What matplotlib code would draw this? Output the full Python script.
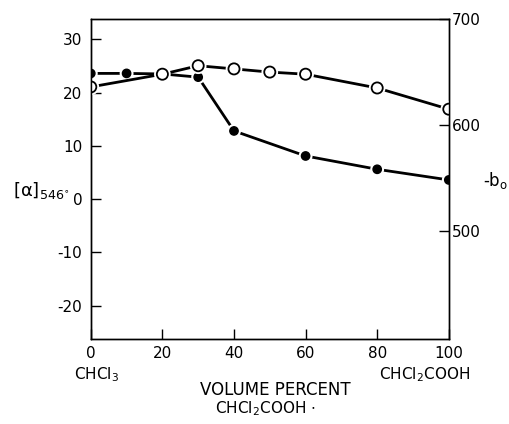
import matplotlib
matplotlib.use("Agg")
import matplotlib.pyplot as plt
import matplotlib.patheffects as pe

plt.rcParams["font.family"] = ["DejaVu Sans"]
plt.rcParams["mathtext.default"] = "regular"

# volume percent CHCl2COOH
x_filled = [0, 10, 20, 30, 40, 60, 80, 100]
alpha_546 = [23.6, 23.6, 23.5, 22.9, 12.8, 8.1, 5.6, 3.6]

x_open = [0, 20, 30, 40, 50, 60, 80, 100]
minus_b0 = [636, 648, 656, 653, 650, 648, 635, 615]

x_ticks = [0, 20, 40, 60, 80, 100]
left_ticks = [-20, -10, 0, 10, 20, 30]
right_ticks = [500, 600, 700]

fig = plt.figure(figsize=(5.10, 4.24), dpi=100)
ax = fig.add_axes([0.178, 0.200, 0.702, 0.755])
ax2 = ax.twinx()

halo = [pe.Stroke(linewidth=4, foreground="white"), pe.Normal()]

ax.plot(x_filled, alpha_546, "-", color="black", lw=2.0)
ax.plot(x_filled, alpha_546, "o", color="black", ms=6, path_effects=halo)

ax2.plot(x_open, minus_b0, "-", color="black", lw=2.0)
ax2.plot(x_open, minus_b0, "o", mfc="white", mec="black", mew=1.3, ms=8,
         path_effects=halo)

ax.set_xlim(0, 100)
ax.set_ylim(-26.3, 33.8)
ax2.set_ylim(398, 700)

ax.set_xticks(x_ticks)
ax.set_yticks(left_ticks)
ax2.set_yticks(right_ticks)
ax.set_yticklabels([str(v) for v in left_ticks])
ax.tick_params(direction="in", length=7, width=1, labelsize=11, pad=6)
ax.tick_params(axis="x", pad=5)
ax2.tick_params(direction="in", length=7, width=1, labelsize=11, pad=2)
ax2.set_zorder(ax.get_zorder() + 1)

for a in (ax, ax2):
    for s in a.spines.values():
        s.set_linewidth(1.0)

fig.text(0.19, 0.116, r"CHCl$_3$", ha="center", va="center", fontsize=11)
fig.text(0.833, 0.116, r"CHCl$_2$COOH", ha="center", va="center", fontsize=11)
fig.text(0.54, 0.080, "VOLUME PERCENT", ha="center", va="center", fontsize=12)
fig.text(0.52, 0.036, r"CHCl$_2$COOH $\cdot$", ha="center", va="center", fontsize=11)
fig.text(0.025, 0.55, r"$[\alpha]_{546^{\circ}}$", ha="left", va="center", fontsize=13)
fig.text(0.948, 0.575, r"-b$_o$", ha="left", va="center", fontsize=12)

fig.savefig("out.png", dpi=100)
